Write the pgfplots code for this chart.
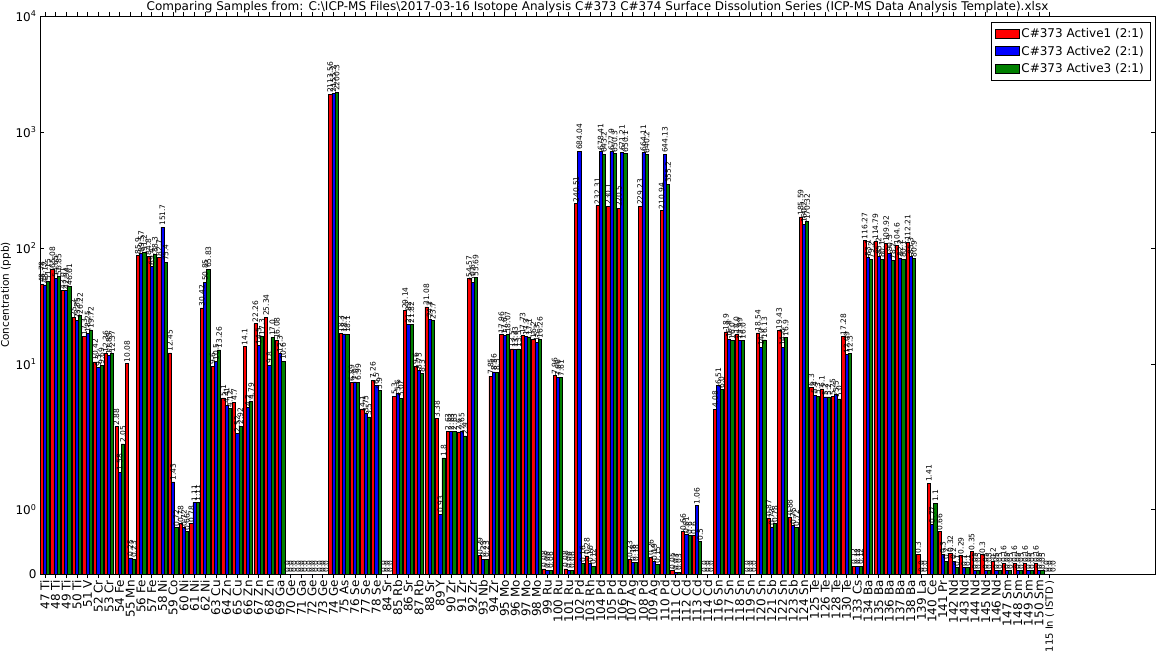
\documentclass[border=0pt]{standalone}
\usepackage{fontspec}
\setmainfont{DejaVu Sans}
\usepackage{pgfplots}
\usepackage{pgfplotstable}
\pgfplotsset{compat=1.18}

% concentrations (ppb), one row per isotope
\pgfplotstableread{
i r b g
0 48.78 48.12 51.15
1 65.08 54.65 56.85
2 43.01 42.94 46.61
3 25.2 23.85 26.22
4 17.3 18.25 19.72
5 10.42 9.3 9.69
6 12.36 11.85 12.37
7 2.88 1.58 2.05
8 10.08 0.25 0.23
9 85.9 89.57 91.2
10 84.8 69.4 88.3
11 82.7 151.7 75.4
12 12.45 1.43 0.72
13 0.78 0.72 0.66
14 0.78 1.11 1.11
15 30.42 50.85 65.83
16 9.6 10.5 13.26
17 5.1 4.41 4.12
18 4.7 2.52 2.92
19 14.1 4.2 4.79
20 22.26 14.5 17.3
21 25.34 9.8 17.0
22 16.08 12.3 10.6
23 0.0 0.0 0.0
24 0.0 0.0 0.0
25 0.0 0.0 0.0
26 0.0 0.0 0.0
27 2113.56 2155.2 2200.3
28 18.3 18.2 18.1
29 6.89 7.0 6.99
30 4.1 3.75 3.5
31 7.26 6.5 5.9
32 0.0 0.0 0.0
33 5.3 5.6 5.07
34 29.14 21.82 21.82
35 9.6 8.75 8.3
36 31.08 24.3 23.7
37 3.38 0.93 1.8
38 2.63 2.63 2.63
39 2.6 2.65 2.4
40 54.57 50.6 55.69
41 0.29 0.23 0.23
42 7.85 8.56 8.5
43 17.96 17.6 18.07
44 13.5 13.43 13.5
45 17.73 17.3 17.1
46 16.2 15.3 16.26
47 0.08 0.06 0.06
48 7.96 7.66 7.61
49 0.08 0.06 0.06
50 240.51 684.04 0.16
51 0.28 0.16 0.12
52 232.31 678.41 643.2
53 230.1 677.9 650.3
54 220.5 671.21 650.1
55 0.23 0.18 0.18
56 229.23 664.11 640.2
57 0.26 0.19 0.15
58 210.94 644.13 355.2
59 0.05 0.03 0.03
60 0.66 0.61 0.6
61 0.6 1.06 0.5
62 0.0 0.0 0.0
63 4.08 6.51 6.0
64 18.9 16.4 16.0
65 18.0 15.99 16.0
66 0.0 0.0 0.0
67 18.54 14.0 16.13
68 0.87 0.73 0.78
69 19.43 14.0 16.9
70 0.88 0.75 0.72
71 185.59 160.2 170.32
72 6.3 5.4 5.3
73 6.1 5.2 5.2
74 5.25 5.5 5.0
75 17.28 12.09 12.3
76 0.12 0.12 0.12
77 116.27 83.1 79.2
78 114.79 85.2 80.1
79 109.92 90.3 78.2
80 104.6 82.2 80.1
81 112.21 85.3 80.9
82 0.3 0.0 0.0
83 1.41 0.77 1.1
84 0.66 0.3 0.2
85 0.32 0.2 0.1
86 0.29 0.1 0.1
87 0.35 0.05 0.05
88 0.3 0.05 0.05
89 0.2 0.05 0.05
90 0.16 0.05 0.05
91 0.16 0.05 0.05
92 0.16 0.05 0.05
93 0.16 0.05 0.05
94 0.0 0.0 0.0
}\conc

\begin{document}
\begin{tikzpicture}
\begin{axis}[
  scale only axis, width=1115pt, height=558pt,
  ybar=0pt, bar width=0.3,
  xmin=-0.45, xmax=103.85,
  ymin=0, ymax=10000,
  enlargelimits=false,
  clip=false,
  y coord trafo/.code={\pgfmathparse{#1<2 ? #1*1.1111 : 2*(1.1111+log10(max(#1,2)/2))}},
  ytick={0,1,10,100,1000,10000},
  yticklabels={0,10\textsuperscript{0},10\textsuperscript{1},10\textsuperscript{2},10\textsuperscript{3},10\textsuperscript{4}},
  xtick={0,...,94},
  xticklabels={47 Ti, 48 Ti, 49 Ti, 50 Ti, 51 V, 52 Cr, 53 Cr, 54 Fe, 55 Mn, 56 Fe, 57 Fe, 58 Ni, 59 Co, 60 Ni, 61 Ni, 62 Ni, 63 Cu, 64 Zn, 65 Cu, 66 Zn, 67 Zn, 68 Zn, 69 Ga, 70 Ge, 71 Ga, 72 Ge, 73 Ge, 74 Ge, 75 As, 76 Se, 77 Se, 78 Se, 84 Sr, 85 Rb, 86 Sr, 87 Rb, 88 Sr, 89 Y, 90 Zr, 91 Zr, 92 Zr, 93 Nb, 94 Zr, 95 Mo, 96 Mo, 97 Mo, 98 Mo, 99 Ru, 100 Ru, 101 Ru, 102 Pd, 103 Rh, 104 Pd, 105 Pd, 106 Pd, 107 Ag, 108 Pd, 109 Ag, 110 Pd, 111 Cd, 112 Cd, 113 Cd, 114 Cd, 116 Sn, 117 Sn, 118 Sn, 119 Sn, 120 Sn, 121 Sb, 122 Sn, 123 Sb, 124 Sn, 125 Te, 126 Te, 128 Te, 130 Te, 133 Cs, 134 Ba, 135 Ba, 136 Ba, 137 Ba, 138 Ba, 139 La, 140 Ce, 141 Pr, 142 Nd, 143 Nd, 144 Nd, 145 Nd, 146 Nd, 147 Sm, 148 Sm, 149 Sm, 150 Sm, {\fontsize{10}{10}\selectfont 115 In ( ISTD )}},
  xticklabel style={rotate=90, anchor=east, font=\fontsize{12}{12}\selectfont, inner sep=2pt},
  yticklabel style={font=\fontsize{12}{12}\selectfont},
  major tick length=4pt,
  tick style={black, line width=0.6pt},
  axis line style={line width=0.8pt},
  title={Comparing Samples from: C:\textbackslash ICP-MS Files\textbackslash 2017-03-16 Isotope Analysis C\#373 C\#374 Surface Dissolution Series (ICP-MS Data Analysis Template).xlsx},
  every axis title/.style={at={(0.5,1)}, anchor=base, yshift=5pt, inner sep=0pt, font=\fontsize{12}{12}\selectfont},
  ylabel={Concentration (ppb)},
  every axis y label/.style={at={(axis description cs:-0.0305,0.5)}, rotate=90, anchor=center, font=\fontsize{10.5}{10.5}\selectfont},
  legend style={at={(rel axis cs:0.9955,0.989)}, anchor=north east, font=\fontsize{12}{12}\selectfont, draw=black, row sep=3pt, inner sep=4pt},
  legend image code/.code={\draw[#1, bar width=0pt] (0pt,-4.5pt) rectangle (24pt,4.5pt);},
  legend cell align=left,
  nodes near coords,
  point meta=explicit symbolic,
  every node near coord/.append style={rotate=90, anchor=west, inner sep=1pt, font=\fontsize{7.5}{7.5}\selectfont, black},
]
\addplot[fill=red, draw=black, line width=0.6pt] table[x=i, y=r, meta=r] {\conc};
\addlegendentry{C\#373 Active1 (2:1)}
\addplot[fill=blue, draw=black, line width=0.6pt] table[x=i, y=b, meta=b] {\conc};
\addlegendentry{C\#373 Active2 (2:1)}
\addplot[fill={rgb,1:red,0;green,0.5;blue,0}, draw=black, line width=0.6pt] table[x=i, y=g, meta=g] {\conc};
\addlegendentry{C\#373 Active3 (2:1)}
\end{axis}
\pgfresetboundingbox
\path[use as bounding box] (current axis.south west) ++(-40pt,-78pt) rectangle ([shift={(2pt,16pt)}]current axis.north east);
\end{tikzpicture}
\end{document}
